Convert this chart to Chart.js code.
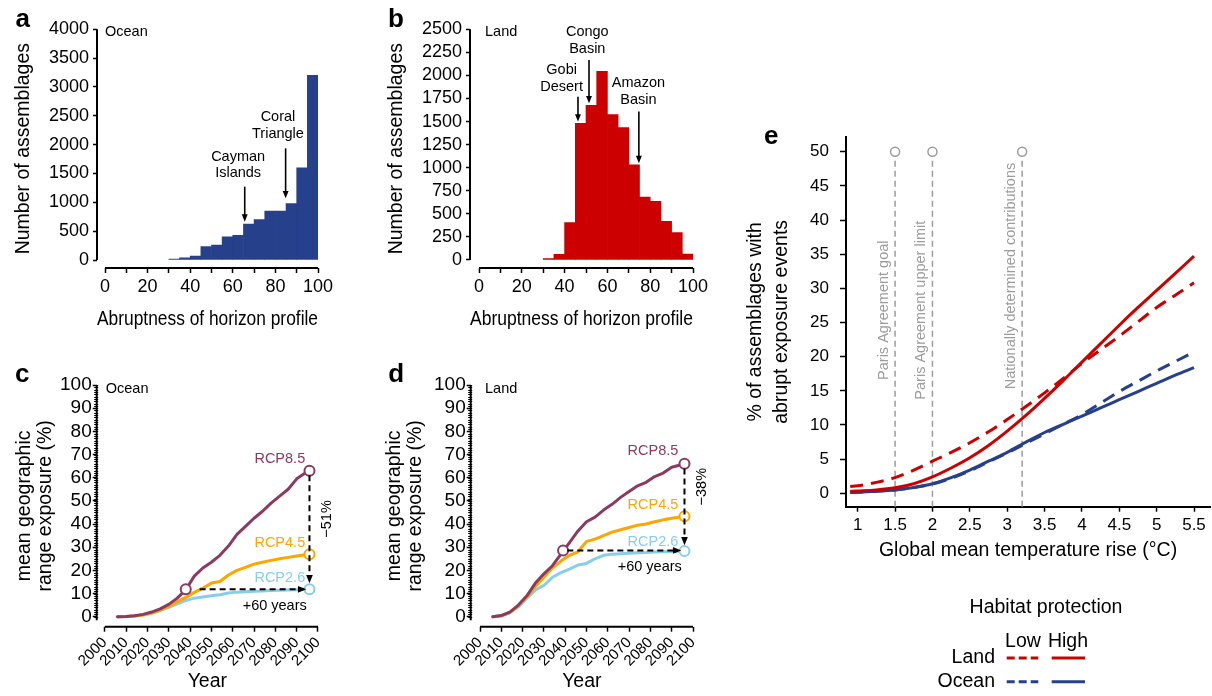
<!DOCTYPE html>
<html>
<head>
<meta charset="utf-8">
<script src="https://cdn.jsdelivr.net/npm/chart.js@4.4.1/dist/chart.umd.min.js"></script>
<style>
html, body { margin: 0; padding: 0; background: #fff; }
#wrap { position: relative; width: 1212px; height: 696px; overflow: hidden; }
#wrap canvas { position: absolute; left: 0; top: 0; }
</style>
</head>
<body>
<div id="wrap">
  <canvas id="panelA" width="1212" height="696"></canvas>
  <canvas id="panelB" width="1212" height="696"></canvas>
  <canvas id="panelC" width="1212" height="696"></canvas>
  <canvas id="panelD" width="1212" height="696"></canvas>
  <canvas id="panelE" width="1212" height="696"></canvas>
</div>
<script>
var FONT = "'Liberation Sans', Arial, Helvetica, sans-serif";

// a, b: histograms of abruptness (5-wide bins, lower edges)
var binStarts = [30, 35, 40, 45, 50, 55, 60, 65, 70, 75, 80, 85, 90, 95];
var oceanCounts = [17, 40, 70, 231, 260, 400, 428, 625, 700, 850, 850, 980, 1600, 3200];
var landCounts = [15, 61, 405, 1481, 1676, 2045, 1575, 1434, 1030, 683, 636, 419, 296, 65];
var histXTicks = [0, 10, 20, 30, 40, 50, 60, 70, 80, 90, 100];
var oceanCountTicks = [0, 500, 1000, 1500, 2000, 2500, 3000, 3500, 4000];
var landCountTicks = [0, 250, 500, 750, 1000, 1250, 1500, 1750, 2000, 2250, 2500];

// c, d: mean geographic range exposure (%)
var years = [2006, 2010, 2014, 2018, 2022, 2026, 2030, 2034, 2038, 2042, 2046, 2050,
             2054, 2058, 2062, 2066, 2070, 2074, 2078, 2082, 2086, 2090, 2094, 2096];
var oceanRcp85 = [0, 0.1, 0.4, 1.0, 2.0, 3.4, 5.3, 8.0, 11.6, 17.5, 21, 23.5, 26.5, 30.5, 35.5, 39, 42.5, 45.5, 49, 52, 55, 59.5, 62, 63];
var oceanRcp45 = [0, 0.1, 0.3, 0.7, 1.6, 2.8, 4.3, 6.5, 8.3, 10.5, 12.3, 14.5, 15.2, 18, 20, 21.3, 22.7, 23.5, 24.3, 25, 25.6, 26.2, 26.7, 27];
var oceanRcp26 = [0, 0.1, 0.3, 0.7, 1.6, 2.8, 4.0, 5.5, 7.0, 8.0, 8.5, 9.0, 9.5, 10.2, 10.6, 10.8, 11.0, 11.1, 11.3, 11.4, 11.5, 11.6, 11.8, 11.8];
var landRcp85 = [0, 0.5, 2, 5, 9, 14.5, 18.5, 22, 27, 32, 37, 41, 43, 46, 48.5, 51.5, 54, 56.5, 58, 60.5, 62, 64.5, 65.5, 66];
var landRcp45 = [0, 0.4, 1.8, 4.5, 8.5, 13, 17, 21, 24, 26.5, 28, 32.5, 33.5, 35, 36.5, 37.5, 38.5, 39.5, 40, 41, 41.8, 42.5, 43, 43.3];
var landRcp26 = [0, 0.4, 1.8, 4.3, 8, 11.5, 13.5, 17, 19, 20.5, 22.3, 23, 25, 26.5, 27, 27.2, 27.4, 27.6, 27.7, 27.9, 28, 28.1, 28.2, 28.3];
var oceanMarkYears = [2038, 2096, 2096, 2096];
var oceanMarkVals = [11.8, 63, 27, 11.8];
var landMarkYears = [2039, 2096, 2096, 2096];
var landMarkVals = [28.6, 66, 43.3, 28.3];
var yearTicks = [2000, 2010, 2020, 2030, 2040, 2050, 2060, 2070, 2080, 2090, 2100];
var exposureTicks = [0, 10, 20, 30, 40, 50, 60, 70, 80, 90, 100];
var scenarioNames = ['RCP8.5', 'RCP4.5', 'RCP2.6'];

// e: % of assemblages with abrupt exposure vs warming
var tempRise = [0.9, 1.0, 1.25, 1.5, 1.75, 2.0, 2.25, 2.5, 2.75, 3.0, 3.25, 3.5, 3.75, 4.0, 4.25, 4.5, 4.75, 5.0, 5.25, 5.5];
var landHigh = [0.3, 0.35, 0.5, 0.8, 1.4, 2.4, 3.7, 5.2, 7.0, 9.1, 11.4, 13.9, 16.5, 19.2, 21.9, 24.6, 27.2, 29.7, 32.2, 34.7];
var landLow = [1.0, 1.1, 1.6, 2.3, 3.4, 4.7, 6.0, 7.4, 9.0, 10.8, 12.7, 14.7, 16.8, 19.0, 21.0, 23.0, 25.1, 27.2, 29.0, 30.8];
var oceanHigh = [0.1, 0.15, 0.3, 0.5, 0.85, 1.4, 2.3, 3.4, 4.7, 6.0, 7.5, 8.9, 10.1, 11.3, 12.5, 13.7, 14.9, 16.1, 17.3, 18.4];
var oceanLow = [0.1, 0.15, 0.3, 0.5, 0.85, 1.35, 2.2, 3.3, 4.6, 5.9, 7.3, 8.7, 10.1, 11.5, 13.2, 14.9, 16.4, 17.9, 19.3, 20.7];
var targetTemps = [1.5, 2, 3.2];
var targetNames = ['Paris Agreement goal', 'Paris Agreement upper limit', 'Nationally determined contributions'];
var tempTicks = [1, 1.5, 2, 2.5, 3, 3.5, 4, 4.5, 5, 5.5];
var shareTicks = [0, 5, 10, 15, 20, 25, 30, 35, 40, 45, 50];

var OCEAN_BLUE = '#27408B', LAND_RED = '#CD0000';
var RCP_COLORS = ['#8B3A62', '#FFA500', '#87CEEB'];
var GREY = '#9c9c9c';

Chart.defaults.font.family = FONT;
Chart.defaults.color = '#000';
Chart.defaults.animation = false;
Chart.defaults.plugins.legend.display = false;
Chart.defaults.plugins.tooltip.enabled = false;

function fixedTicks(values) {
    return function (scale) {
        scale.ticks = values.map(function (v) { return { value: v }; });
    };
}

function font(size, bold) {
    return (bold ? 'bold ' : '') + size + 'px ' + FONT;
}

function arrow(ctx, x1, y1, x2, y2, dash, width, head) {
    var ang = Math.atan2(y2 - y1, x2 - x1);
    ctx.save();
    ctx.strokeStyle = '#000';
    ctx.fillStyle = '#000';
    ctx.lineWidth = width;
    ctx.setLineDash(dash);
    ctx.beginPath();
    ctx.moveTo(x1, y1);
    ctx.lineTo(x2 - Math.cos(ang) * head * 0.7, y2 - Math.sin(ang) * head * 0.7);
    ctx.stroke();
    ctx.setLineDash([]);
    ctx.beginPath();
    ctx.moveTo(x2, y2);
    ctx.lineTo(x2 - head * Math.cos(ang - 0.38), y2 - head * Math.sin(ang - 0.38));
    ctx.lineTo(x2 - head * Math.cos(ang + 0.38), y2 - head * Math.sin(ang + 0.38));
    ctx.closePath();
    ctx.fill();
    ctx.restore();
}

// detached axis lines like base R graphics
function drawAxisLines(chart, yFrom, yTo, xFrom, xTo) {
    var ctx = chart.ctx, xs = chart.scales.x, ys = chart.scales.y, area = chart.chartArea;
    ctx.save();
    ctx.strokeStyle = '#000';
    ctx.lineWidth = 2;
    ctx.beginPath();
    ctx.moveTo(area.left, ys.getPixelForValue(yFrom));
    ctx.lineTo(area.left, ys.getPixelForValue(yTo));
    ctx.moveTo(xs.getPixelForValue(xFrom), area.bottom);
    ctx.lineTo(xs.getPixelForValue(xTo), area.bottom);
    ctx.stroke();
    ctx.restore();
}

function letter(ctx, txt, x, y) {
    ctx.save();
    ctx.font = font(26, true);
    ctx.fillStyle = '#000';
    ctx.textAlign = 'left';
    ctx.textBaseline = 'alphabetic';
    ctx.fillText(txt, x, y);
    ctx.restore();
}

// ---------- a & b ----------
function histChart(id, box, counts, color, yTicks, decor) {
    return new Chart(document.getElementById(id), {
        type: 'bar',
        data: {
            datasets: [{
                data: binStarts.map(function (b, i) { return { x: b + 2.5, y: counts[i] }; }),
                backgroundColor: color,
                borderWidth: 0,
                barPercentage: 1,
                categoryPercentage: 1
            }]
        },
        options: {
            responsive: false,
            layout: { padding: box.pad },
            scales: {
                x: {
                    type: 'linear', min: box.xMin, max: 100, offset: false,
                    afterBuildTicks: fixedTicks(histXTicks),
                    afterFit: function (s) { s.height = 63.7; },
                    grid: { offset: false, drawOnChartArea: false, tickLength: 5, tickColor: '#000', tickWidth: 1.5 },
                    border: { display: false },
                    ticks: {
                        autoSkip: false, maxRotation: 0, padding: 3, font: { size: 18 },
                        callback: function (v) { return v % 20 === 0 ? String(v) : ''; }
                    },
                    title: { display: true, text: 'Abruptness of horizon profile', font: { size: 19.5 }, padding: 0 }
                },
                y: {
                    min: box.yMin, max: yTicks[yTicks.length - 1],
                    afterBuildTicks: fixedTicks(yTicks),
                    afterFit: function (s) { s.width = box.yW; },
                    grid: { drawOnChartArea: false, tickLength: 4, tickColor: '#000', tickWidth: 1.5 },
                    border: { display: false },
                    ticks: { autoSkip: false, padding: 4, font: { size: 18 }, callback: function (v) { return String(v); } },
                    title: { display: true, text: 'Number of assemblages', font: { size: 19.5 }, padding: { top: box.titlePad, bottom: 0 } }
                }
            }
        },
        plugins: [decor]
    });
}

function noteDecor(id, tag, panelText, textShift, letterPos, notes, yMax) {
    return {
        id: id,
        afterDraw: function (chart) {
            var ctx = chart.ctx, xs = chart.scales.x, ys = chart.scales.y;
            drawAxisLines(chart, 0, yMax, 0, 100);
            letter(ctx, tag, letterPos[0], letterPos[1]);
            ctx.save();
            ctx.fillStyle = '#000';
            ctx.font = font(14.5);
            ctx.textAlign = 'left';
            ctx.textBaseline = 'middle';
            ctx.fillText(panelText, xs.getPixelForValue(0) + textShift, ys.getPixelForValue(yMax) + 3);
            ctx.textAlign = 'center';
            notes.forEach(function (n) {
                var tx = xs.getPixelForValue(n.tx), ty = ys.getPixelForValue(n.ty);
                n.lines.forEach(function (t, i) { ctx.fillText(t, tx, ty + i * 16.7); });
                var ax = xs.getPixelForValue(n.ax);
                arrow(ctx, ax, ys.getPixelForValue(n.from), ax, ys.getPixelForValue(n.to), [], 1.6, 8);
            });
            ctx.restore();
        }
    };
}

histChart('panelA',
    { pad: { left: 0, top: 29.3, right: 1212 - 318, bottom: 696 - 331.7 }, xMin: -3.76, yMin: -138.3, yW: 97, titlePad: 11.6 },
    oceanCounts, OCEAN_BLUE, oceanCountTicks,
    noteDecor('decorA', 'a', 'Ocean', 0, [15.5, 26.7], [
        { lines: ['Cayman', 'Islands'], tx: 62.5, ty: 1792, ax: 65.6, from: 1272, to: 665 },
        { lines: ['Coral', 'Triangle'], tx: 81.2, ty: 2474, ax: 84.8, from: 1936, to: 1069 }
    ], 4000));

histChart('panelB',
    { pad: { left: 375, top: 29.3, right: 1212 - 693, bottom: 696 - 331.7 }, xMin: -4.21, yMin: -86.7, yW: 95, titlePad: 10 },
    landCounts, LAND_RED, landCountTicks,
    noteDecor('decorB', 'b', 'Land', 6, [388, 26.7], [
        { lines: ['Gobi', 'Desert'], tx: 38.6, ty: 2059, ax: 46.25, from: 1770, to: 1500 },
        { lines: ['Congo', 'Basin'], tx: 50.6, ty: 2467, ax: 51.4, from: 2167, to: 1698 },
        { lines: ['Amazon', 'Basin'], tx: 74.5, ty: 1915, ax: 74.7, from: 1608, to: 1048 }
    ], 2500));

// ---------- c & d ----------
function exposureChart(id, box, series, markYears, markVals, decor) {
    var lines = series.map(function (vals, k) {
        return {
            data: years.map(function (y, i) { return { x: y, y: vals[i] }; }),
            borderColor: RCP_COLORS[k],
            borderWidth: 3,
            pointRadius: 0,
            tension: 0,
            borderJoinStyle: 'round',
            borderCapStyle: 'round',
            fill: false
        };
    });
    var marks = {
        data: markYears.map(function (y, i) { return { x: y, y: markVals[i] }; }),
        showLine: false,
        pointRadius: 5,
        pointBorderWidth: 2,
        pointBackgroundColor: '#fff',
        pointBorderColor: [RCP_COLORS[0], RCP_COLORS[0], RCP_COLORS[1], RCP_COLORS[2]],
        clip: false
    };
    return new Chart(document.getElementById(id), {
        type: 'line',
        data: { datasets: [marks].concat(lines) },
        options: {
            responsive: false,
            layout: { padding: box.pad },
            scales: {
                x: {
                    type: 'linear', min: box.xMin, max: 2100,
                    afterBuildTicks: fixedTicks(yearTicks),
                    afterFit: function (s) { s.height = 66.7; },
                    grid: { drawOnChartArea: false, tickLength: 5, tickColor: '#000', tickWidth: 1.5 },
                    border: { display: false },
                    ticks: { autoSkip: false, minRotation: 45, maxRotation: 45, padding: 2, font: { size: 15 }, callback: function (v) { return String(v); } },
                    title: { display: true, text: 'Year', font: { size: 19.5 }, padding: 0 }
                },
                y: {
                    min: -4.32, max: 100,
                    afterBuildTicks: fixedTicks(exposureTicks),
                    afterFit: function (s) { s.width = box.yW; },
                    grid: { drawOnChartArea: false, tickLength: 4, tickColor: '#000', tickWidth: 1.5 },
                    border: { display: false },
                    ticks: { autoSkip: false, padding: 1, font: { size: 19 }, callback: function (v) { return String(v); } },
                    title: {
                        display: true, text: ['mean geographic', 'range exposure (%)'],
                        font: { size: 19.5, lineHeight: 1.05 }, padding: { top: box.titlePad, bottom: 0 }
                    }
                }
            }
        },
        plugins: [decor]
    });
}

function exposureDecor(id, tag, panelText, textShift, letterPos, lab, shift) {
    return {
        id: id,
        afterDraw: function (chart) {
            var ctx = chart.ctx, xs = chart.scales.x, ys = chart.scales.y, area = chart.chartArea;
            drawAxisLines(chart, -1.5, 100, 2000, 2100);
            ctx.save();
            ctx.strokeStyle = '#000';
            ctx.lineWidth = 1;
            ctx.beginPath();
            for (var v = 0; v <= 100; v++) {
                var py = Math.round(ys.getPixelForValue(v)) + 0.5;
                ctx.moveTo(area.left - 2.5, py);
                ctx.lineTo(area.left + 1.5, py);
            }
            ctx.stroke();
            ctx.restore();
            letter(ctx, tag, letterPos[0], letterPos[1]);
            ctx.save();
            ctx.font = font(14.5);
            ctx.textBaseline = 'middle';
            ctx.textAlign = 'left';
            ctx.fillStyle = '#000';
            ctx.fillText(panelText, xs.getPixelForValue(2000) + textShift, ys.getPixelForValue(98.3));
            ctx.textAlign = 'right';
            scenarioNames.forEach(function (name, k) {
                ctx.fillStyle = RCP_COLORS[k];
                ctx.fillText(name, xs.getPixelForValue(lab.x), ys.getPixelForValue(lab.y[k]));
            });
            ctx.fillStyle = '#000';
            ctx.textAlign = 'center';
            ctx.fillText('+60 years', xs.getPixelForValue(shift.yearsX), ys.getPixelForValue(shift.yearsY));
            ctx.save();
            ctx.translate(xs.getPixelForValue(shift.pctX), ys.getPixelForValue(shift.pctY));
            ctx.rotate(-Math.PI / 2);
            ctx.fillText(shift.pct, 0, 0);
            ctx.restore();
            arrow(ctx, xs.getPixelForValue(shift.h[0]), ys.getPixelForValue(shift.h[2]),
                xs.getPixelForValue(shift.h[1]), ys.getPixelForValue(shift.h[2]), [6, 4], 2, 9);
            arrow(ctx, xs.getPixelForValue(shift.v[0]), ys.getPixelForValue(shift.v[1]),
                xs.getPixelForValue(shift.v[0]), ys.getPixelForValue(shift.v[2]), [6, 4], 2, 9);
            ctx.restore();
        }
    };
}

exposureChart('panelC',
    { pad: { left: 0, top: 385, right: 1212 - 318, bottom: 2.6 }, xMin: 1996.24, yW: 96.7, titlePad: 14.8 },
    [oceanRcp85, oceanRcp45, oceanRcp26], oceanMarkYears, oceanMarkVals,
    exposureDecor('decorC', 'c', 'Ocean', 1, [15, 382.3],
        { x: 2094, y: [68.1, 31.9, 16.6] },
        { yearsX: 2079.7, yearsY: 4.6, pctX: 2104, pctY: 42.2, pct: '\u221251%',
          h: [2044.5, 2094.5, 11.8], v: [2096, 61, 14.4] }));

exposureChart('panelD',
    { pad: { left: 375, top: 385, right: 1212 - 693, bottom: 2.6 }, xMin: 1995.63, yW: 95.7, titlePad: 9.8 },
    [landRcp85, landRcp45, landRcp26], landMarkYears, landMarkVals,
    exposureDecor('decorD', 'd', 'Land', 5, [388.3, 382.3],
        { x: 2093.1, y: [71.5, 48.2, 32.4] },
        { yearsX: 2079.7, yearsY: 21.6, pctX: 2104.1, pctY: 56.1, pct: '\u221238%',
          h: [2041, 2094.5, 28.6], v: [2096, 64, 30.8] }));

// ---------- e ----------
function curve(vals, color, dashed) {
    return {
        data: tempRise.map(function (t, i) { return { x: t, y: vals[i] }; }),
        borderColor: color,
        borderWidth: 3,
        borderDash: dashed ? [13, 8] : [],
        pointRadius: 0,
        cubicInterpolationMode: 'monotone',
        fill: false
    };
}

var decorE = {
    id: 'decorE',
    beforeDatasetsDraw: function (chart) {
        var ctx = chart.ctx, xs = chart.scales.x, ys = chart.scales.y, area = chart.chartArea;
        ctx.save();
        targetTemps.forEach(function (t, i) {
            var px = xs.getPixelForValue(t), top = ys.getPixelForValue(50);
            ctx.strokeStyle = GREY;
            ctx.lineWidth = 1.5;
            ctx.setLineDash([6, 4]);
            ctx.beginPath();
            ctx.moveTo(px, area.bottom);
            ctx.lineTo(px, top + 5);
            ctx.stroke();
            ctx.setLineDash([]);
            ctx.beginPath();
            ctx.arc(px, top, 4.5, 0, Math.PI * 2);
            ctx.fillStyle = '#fff';
            ctx.fill();
            ctx.stroke();
            ctx.save();
            ctx.translate(px - 11.4, ys.getPixelForValue([26.8, 26.8, 31.8][i]));
            ctx.rotate(-Math.PI / 2);
            ctx.fillStyle = GREY;
            ctx.font = font(14.5);
            ctx.textAlign = 'center';
            ctx.textBaseline = 'middle';
            ctx.fillText(targetNames[i], 0, 0);
            ctx.restore();
        });
        ctx.restore();
    },
    afterDraw: function (chart) {
        var ctx = chart.ctx;
        letter(ctx, 'e', 764, 144);
        ctx.save();
        ctx.fillStyle = '#000';
        ctx.font = font(19.5);
        ctx.textBaseline = 'middle';
        ctx.textAlign = 'center';
        ctx.fillText('Habitat protection', 1046, 608);
        ctx.fillText('Low', 1023, 641.7);
        ctx.fillText('High', 1068, 641.7);
        ctx.textAlign = 'right';
        ctx.fillText('Land', 995, 658);
        ctx.fillText('Ocean', 995, 681.7);
        [[658, LAND_RED], [681.7, OCEAN_BLUE]].forEach(function (row) {
            ctx.strokeStyle = row[1];
            ctx.lineWidth = 3;
            ctx.setLineDash([8, 4]);
            ctx.beginPath();
            ctx.moveTo(1006.7, row[0]);
            ctx.lineTo(1038.3, row[0]);
            ctx.stroke();
            ctx.setLineDash([]);
            ctx.beginPath();
            ctx.moveTo(1051.7, row[0]);
            ctx.lineTo(1085, row[0]);
            ctx.stroke();
        });
        ctx.restore();
    }
};

new Chart(document.getElementById('panelE'), {
    type: 'line',
    data: {
        datasets: [
            curve(landHigh, LAND_RED, false),
            curve(landLow, LAND_RED, true),
            curve(oceanHigh, OCEAN_BLUE, false),
            curve(oceanLow, OCEAN_BLUE, true)
        ]
    },
    options: {
        responsive: false,
        layout: { padding: { left: 735, top: 137, right: 2, bottom: 696 - 562.4 } },
        scales: {
            x: {
                type: 'linear', min: 0.8434, max: 5.714,
                afterBuildTicks: fixedTicks(tempTicks),
                afterFit: function (s) { s.height = 55.7; },
                grid: { drawOnChartArea: false, tickLength: 5, tickColor: '#000', tickWidth: 1.5 },
                border: { display: true, color: '#000', width: 2 },
                ticks: { autoSkip: false, maxRotation: 0, padding: 3, font: { size: 17 }, callback: function (v) { return String(v); } },
                title: { display: true, text: 'Global mean temperature rise (\u00B0C)', font: { size: 19.5 }, padding: 0 }
            },
            y: {
                min: -1.96, max: 52.15,
                afterBuildTicks: fixedTicks(shareTicks),
                afterFit: function (s) { s.width = 111; },
                grid: { drawOnChartArea: false, tickLength: 6, tickColor: '#000', tickWidth: 1.5 },
                border: { display: true, color: '#000', width: 2 },
                ticks: { autoSkip: false, padding: 11, font: { size: 17 }, callback: function (v) { return String(v); } },
                title: {
                    display: true, text: ['% of assemblages with', 'abrupt exposure events'],
                    font: { size: 19.5, lineHeight: 1.333 }, padding: { top: 8, bottom: 0 }
                }
            }
        }
    },
    plugins: [decorE]
});
</script>
</body>
</html>
